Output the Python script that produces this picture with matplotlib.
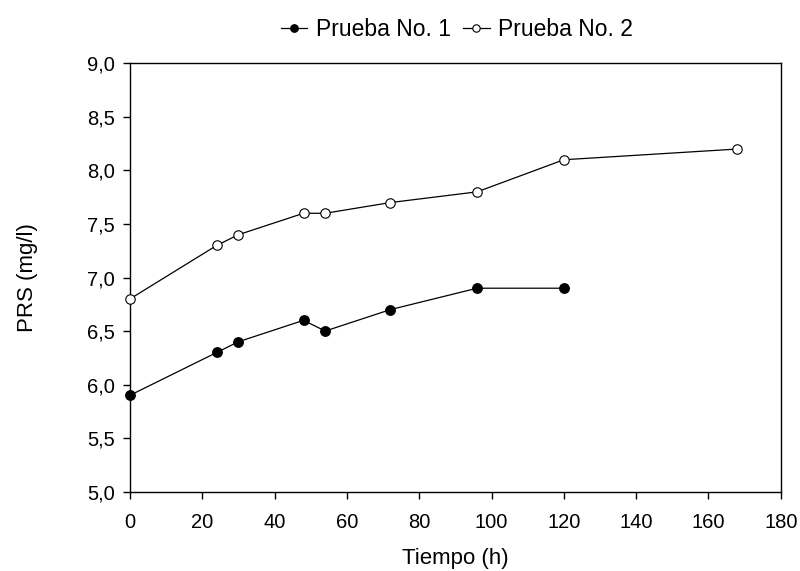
import matplotlib
matplotlib.use("Agg")
import matplotlib.pyplot as plt
from matplotlib.ticker import FuncFormatter

plt.rcParams['font.family'] = ['Liberation Sans', 'DejaVu Sans']

x1 = [0, 24, 30, 48, 54, 72, 96, 120]
y1 = [5.9, 6.3, 6.4, 6.6, 6.5, 6.7, 6.9, 6.9]
x2 = [0, 24, 30, 48, 54, 72, 96, 120, 168]
y2 = [6.8, 7.3, 7.4, 7.6, 7.6, 7.7, 7.8, 8.1, 8.2]
labels = ["Prueba No. 1", "Prueba No. 2"]

fig = plt.figure(figsize=(8, 5.71), dpi=100)
ax = fig.add_axes([0.1625, 0.139, 0.976 - 0.1625, 0.889 - 0.139])

ax.plot(x1, y1, color='black', lw=0.9, marker='o', ms=6.8, mfc='black', mec='black', label=labels[0], clip_on=False, zorder=3)
ax.plot(x2, y2, color='black', lw=0.9, marker='o', ms=6.8, mfc='white', mec='black', mew=0.8, label=labels[1], clip_on=False, zorder=3)

ax.set_xlim(0, 180)
ax.set_ylim(5.0, 9.0)
ax.set_xticks(range(0, 181, 20))
ax.set_yticks([5.0, 5.5, 6.0, 6.5, 7.0, 7.5, 8.0, 8.5, 9.0])
ax.yaxis.set_major_formatter(FuncFormatter(lambda v, p: f"{v:.1f}".replace('.', ',')))
ax.tick_params(direction='out', length=5, width=1, labelsize=14.5)
ax.tick_params(axis='x', pad=10.5)
ax.tick_params(axis='y', pad=6)
for s in ax.spines.values():
    s.set_linewidth(1)

ax.set_xlabel("Tiempo (h)", fontsize=16)
ax.set_ylabel("PRS (mg/l)", fontsize=16)
ax.xaxis.set_label_coords(0.5, -0.132)
ax.yaxis.set_label_coords(-0.141, 0.5)

fig.legend(loc='center', bbox_to_anchor=(0.571, 0.948), ncol=2, frameon=False,
           fontsize=16.5, handlelength=1.15, columnspacing=0.55, handletextpad=0.36,
           markerscale=0.78, borderpad=0, borderaxespad=0)

fig.savefig("out.png", dpi=100)
